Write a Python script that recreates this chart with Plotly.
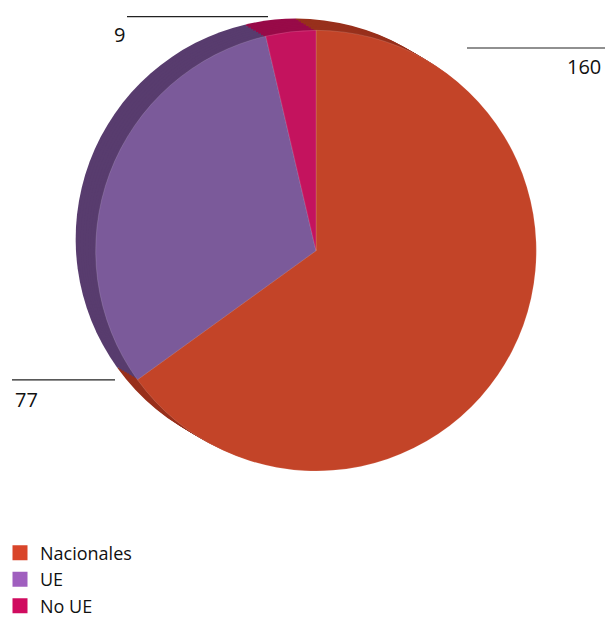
import plotly.graph_objects as go

categories = ["Nacionales", "UE", "No UE"]
values = [160, 77, 9]
top_colors = ["#C34428", "#7B5A9A", "#C4135E"]
side_colors = ["#98301C", "#583C6E", "#980A48"]
legend_colors = ["#D9452A", "#A05FBF", "#D00B5F"]

W, H = 606, 625

def X(px):
    return px / W

def Y(py):
    return 1 - py / H

def px_dom(cx, cy, r):
    return dict(x=[X(cx - r), X(cx + r)], y=[Y(cy + r), Y(cy - r)])

fig = go.Figure()

cx, cy, r = 316, 256, 225
dx, dy = -20, -12
n = 8
for i in range(n, 0, -1):
    t = i / n
    fig.add_trace(go.Pie(
        labels=categories, values=values, sort=False, direction="clockwise",
        rotation=0, marker=dict(colors=side_colors, line=dict(width=0)),
        textinfo="none", hoverinfo="skip", showlegend=False,
        domain=px_dom(cx + dx * t, cy + dy * t, r)))

fig.add_trace(go.Pie(
    labels=categories, values=values, sort=False, direction="clockwise",
    rotation=0, marker=dict(colors=top_colors, line=dict(width=0.4, color="rgba(255,255,255,0.35)")),
    textinfo="none", showlegend=False, domain=px_dom(cx, cy, r)))

for cat, col in zip(categories, legend_colors):
    fig.add_trace(go.Scatter(x=[None], y=[None], mode="markers", name=cat,
                             marker=dict(symbol="square", size=15, color=col)))

# label annotations with leader lines (pixel positions)
label_pos = [  # (line x0, x1, y, text x, text y, anchor)
    (467, 605, 49, 603, 68, "right"),
    (12, 115, 388, 13, 408, "left"),
    (127, 268, 17, 112, 35, "left"),
]
for v, (x0, x1, ly, tx, ty, anc) in zip(values, label_pos):
    fig.add_shape(type="line", xref="paper", yref="paper",
                  x0=X(x0), x1=X(x1), y0=Y(ly), y1=Y(ly),
                  line=dict(color="#222222", width=1.2))
    fig.add_annotation(xref="paper", yref="paper", x=X(tx), y=Y(ty),
                       text=str(v), showarrow=False, xanchor=anc, yanchor="middle",
                       font=dict(family="Open Sans", size=20, color="#111111"))

fig.update_layout(
    width=W, height=H, autosize=False, margin=dict(l=0, r=0, t=0, b=0),
    paper_bgcolor="white", plot_bgcolor="white",
    xaxis=dict(visible=False), yaxis=dict(visible=False),
    legend=dict(x=0.0, y=Y(546), xanchor="left", yanchor="top",
                font=dict(family="Open Sans", size=18, color="#111111"),
                tracegroupgap=0, bgcolor="rgba(0,0,0,0)"),
    showlegend=True,
)

fig.write_html("out.html",
               config={"displayModeBar": False, "responsive": False},
               post_script="document.body.style.margin='0';document.body.style.overflow='hidden';")
